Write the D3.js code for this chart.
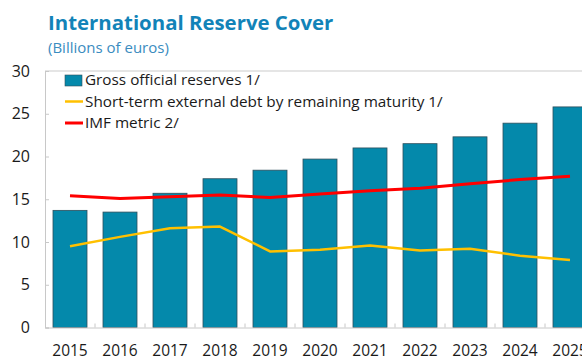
<!DOCTYPE html>
<html>
<head>
<meta charset="utf-8">
<script src="https://cdn.jsdelivr.net/npm/d3@7"></script>
<style>
  html, body { margin: 0; padding: 0; background: #ffffff; }
  svg { display: block; font-family: "Open Sans", "Noto Sans", sans-serif; }
</style>
</head>
<body>
<svg id="chart" width="582" height="356"></svg>
<script>
// Reserve cover data, billions of euros
const years = ["2015", "2016", "2017", "2018", "2019", "2020", "2021", "2022", "2023", "2024", "2025"];
const grossReserves = [13.7, 13.5, 15.7, 17.4, 18.4, 19.7, 21.0, 21.5, 22.3, 23.9, 25.8];
const shortTermDebt = [9.5, 10.6, 11.6, 11.8, 8.9, 9.1, 9.6, 9.0, 9.2, 8.4, 7.9];
const imfMetric = [15.4, 15.1, 15.3, 15.5, 15.2, 15.6, 16.0, 16.3, 16.8, 17.3, 17.7];
const yTicks = [0, 5, 10, 15, 20, 25, 30];
const legendLabels = [
  "Gross official reserves 1/",
  "Short-term external debt by remaining maturity 1/",
  "IMF metric 2/"
];

const colors = { bar: "#0489ab", barStroke: "#2f4f5c", debt: "#ffc000", imf: "#ff0000", axis: "#c8c8c8", text: "#1a1a1a" };

const svg = d3.select("#chart");
const plotLeft = 45, plotTop = 71, plotBottom = 327.5;

const x = d3.scaleBand().domain(years).range([plotLeft, 595]).paddingInner(0.32).paddingOuter(0.16);
const y = d3.scaleLinear().domain([0, 30]).range([plotBottom, plotTop]);

// Title block
svg.append("text").attr("x", 48).attr("y", 30)
  .attr("font-size", 20.4).attr("font-weight", 700).attr("fill", "#1283b8")
  .text("International Reserve Cover");
svg.append("text").attr("x", 48).attr("y", 53)
  .attr("font-size", 15).attr("fill", "#3a8cc0")
  .text("(Billions of euros)");

// Frame top line
svg.append("line").attr("x1", plotLeft).attr("x2", 582).attr("y1", plotTop).attr("y2", plotTop)
  .attr("stroke", "#dcdcdc").attr("stroke-width", 1.5);

// Bars
svg.append("g").selectAll("rect").data(years).join("rect")
  .attr("x", d => x(d))
  .attr("y", (d, i) => y(grossReserves[i]))
  .attr("width", x.bandwidth())
  .attr("height", (d, i) => y(0) - y(grossReserves[i]))
  .attr("fill", colors.bar)
  .attr("stroke", colors.barStroke).attr("stroke-width", 0.8);

// Lines
const line = d3.line().x((v, i) => x(years[i]) + x.bandwidth() / 2).y(v => y(v));
svg.append("path").datum(shortTermDebt).attr("d", line)
  .attr("fill", "none").attr("stroke", colors.debt).attr("stroke-width", 2.5).attr("stroke-linejoin", "round");
svg.append("path").datum(imfMetric).attr("d", line)
  .attr("fill", "none").attr("stroke", colors.imf).attr("stroke-width", 3).attr("stroke-linejoin", "round");

// Y axis
const yAxis = svg.append("g").attr("transform", `translate(${plotLeft},0)`)
  .call(d3.axisLeft(y).tickValues(yTicks).tickSize(-4).tickPadding(15));
yAxis.select(".domain").attr("stroke", colors.axis);
yAxis.selectAll(".tick line").attr("stroke", colors.axis);
yAxis.selectAll(".tick text").attr("font-size", 16).attr("fill", colors.text).attr("font-family", "Open Sans, sans-serif");

// X axis with tick marks between categories
const xAxis = svg.append("g").attr("transform", `translate(0,${plotBottom})`)
  .call(d3.axisBottom(x).tickSize(0).tickPadding(17));
xAxis.select(".domain").attr("stroke", colors.axis);
xAxis.selectAll(".tick text").attr("font-size", 15.5).attr("fill", colors.text).attr("font-family", "Open Sans, sans-serif");
xAxis.selectAll("line.sep").data(years.slice(1)).join("line").attr("class", "sep")
  .attr("x1", d => x(d) - x.step() * x.paddingInner() / 2)
  .attr("x2", d => x(d) - x.step() * x.paddingInner() / 2)
  .attr("y1", 0).attr("y2", -4).attr("stroke", colors.axis);

// Legend
const legend = svg.append("g").attr("transform", "translate(65,80)");
const rowGap = 21.5;
legendLabels.forEach((label, i) => {
  const g = legend.append("g").attr("transform", `translate(0,${i * rowGap})`);
  if (i === 0) {
    g.append("rect").attr("x", 0).attr("y", -5).attr("width", 17).attr("height", 11)
      .attr("fill", colors.bar).attr("stroke", colors.barStroke).attr("stroke-width", 0.6);
  } else {
    g.append("line").attr("x1", 0).attr("x2", 18).attr("y1", 0).attr("y2", 0)
      .attr("stroke", i === 1 ? colors.debt : colors.imf).attr("stroke-width", i === 1 ? 2.5 : 3);
  }
  g.append("text").attr("x", 20).attr("y", 0).attr("dy", "0.35em")
    .attr("font-size", 15.3).attr("fill", colors.text).text(label);
});
</script>
</body>
</html>
